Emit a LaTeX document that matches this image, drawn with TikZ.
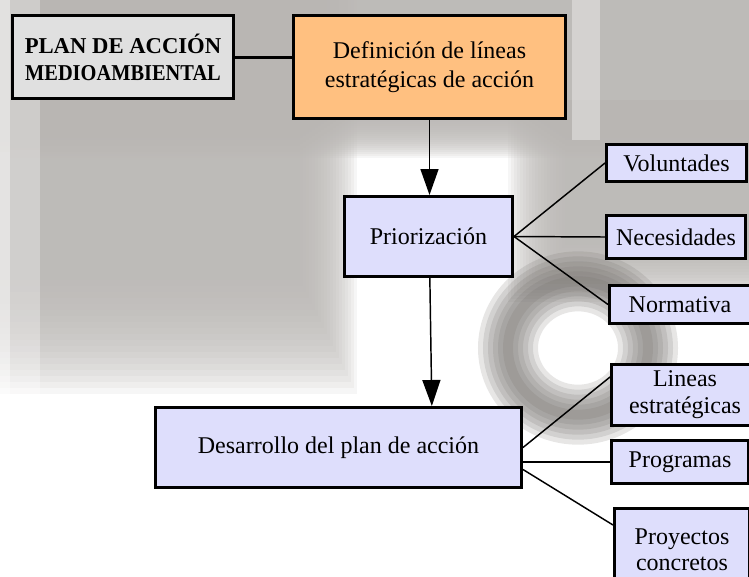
\documentclass[tikz,border=0pt]{standalone}
\usepackage{fontspec}
\setmainfont{Liberation Serif}
\usepackage{graphicx}
\usetikzlibrary{arrows.meta}
\definecolor{planfill}{RGB}{224,224,224}
\definecolor{deffill}{RGB}{255,192,128}
\definecolor{boxfill}{RGB}{222,222,252}
\definecolor{bggray}{RGB}{184,181,178}
\definecolor{ringgray}{RGB}{110,106,102}
\begin{document}
\begin{tikzpicture}[x=0.75pt,y=-0.75pt,
  box/.style={draw,line width=2.25pt,inner sep=0pt,align=center,fill=boxfill,
    font=\fontsize{18}{20.25}\selectfont},
  soft/.style={bggray,opacity=0.12},
  link/.style={line width=1.1pt},
  arr/.style={line width=1.1pt,-{Triangle[length=19.5pt,width=13.5pt]}}]
\useasboundingbox (0,0) rectangle (749,576);
\clip (0,0) rectangle (749,576);

% background
\foreach \i in {1,...,20} {
  \fill[soft] (0,0) rectangle (360-3*\i,400-6*\i);
  \fill[soft] (0,0) rectangle (749,160-2*\i);
  \fill[soft] (505+3*\i,100) rectangle (749,305-3*\i);
}
\fill[white,opacity=0.6] (0,0) rectangle (10,420);
\fill[white,opacity=0.3] (10,0) rectangle (40,420);
\fill[white,opacity=0.35] (572,0) rectangle (600,140);
\foreach \w in {60,50,...,10}
  \draw[ringgray,opacity=0.17,line width=\w*0.75pt] (578,348) ellipse (52.5pt and 50pt);

% nodes
\node[box,fill=planfill,minimum width=165.75pt,minimum height=62.25pt,
  font=\bfseries\fontsize{17}{20.25}\selectfont] (plan) at (123,57)
  {PLAN DE ACCIÓN\\\scalebox{0.9}[1]{MEDIOAMBIENTAL}};
\node[box,fill=deffill,minimum width=204pt,minimum height=77.25pt,
  font=\fontsize{18}{21.75}\selectfont] (def) at (429.5,67)
  {Definición de líneas\\estratégicas de acción};
\node[box,minimum width=126pt,minimum height=60pt] (prior) at (428.5,236.5) {Priorización};
\node[box,minimum width=274.5pt,minimum height=60pt] (desa) at (338.5,447.5) {Desarrollo del plan de acción};

\node[box,minimum width=105pt,minimum height=27.75pt] (vol) at (676.5,163) {Voluntades};
\node[box,minimum width=104.25pt,minimum height=32.25pt] (nec) at (676,237) {Necesidades};
\node[box,minimum width=105.75pt,minimum height=28.5pt] (norm) at (680,304.5) {Normativa};

\node[box,minimum width=110.25pt,minimum height=45.75pt] (lin) at (685,395) {Lineas\\estratégicas};
\node[box,minimum width=102.75pt,minimum height=32.25pt] (prog) at (680,462) {Programas};
\node[box,minimum width=101.25pt,minimum height=62.25pt,
  font=\fontsize{18}{19.5}\selectfont] (proy) at (682,550) {Proyectos\\concretos};

% connectors
\draw[line width=2.25pt] (plan.east) -- (plan.east -| def.west);
\draw[arr] (def.south) -- (def.south |- prior.north);
\draw[arr] ([xshift=1pt]prior.south) -- ([xshift=2.5pt]prior.south |- desa.north);
\foreach \n in {vol,nec,norm}
  \draw[link] (prior.east) -- (\n.west);
\draw[link] (desa.east) -- ([yshift=13.5pt]lin.west);
\draw[link] (desa.east |- prog.west) -- (prog.west);
\draw[link] ([yshift=-16.5pt]desa.east) -- ([yshift=18.75pt]proy.west);
\end{tikzpicture}
\end{document}
